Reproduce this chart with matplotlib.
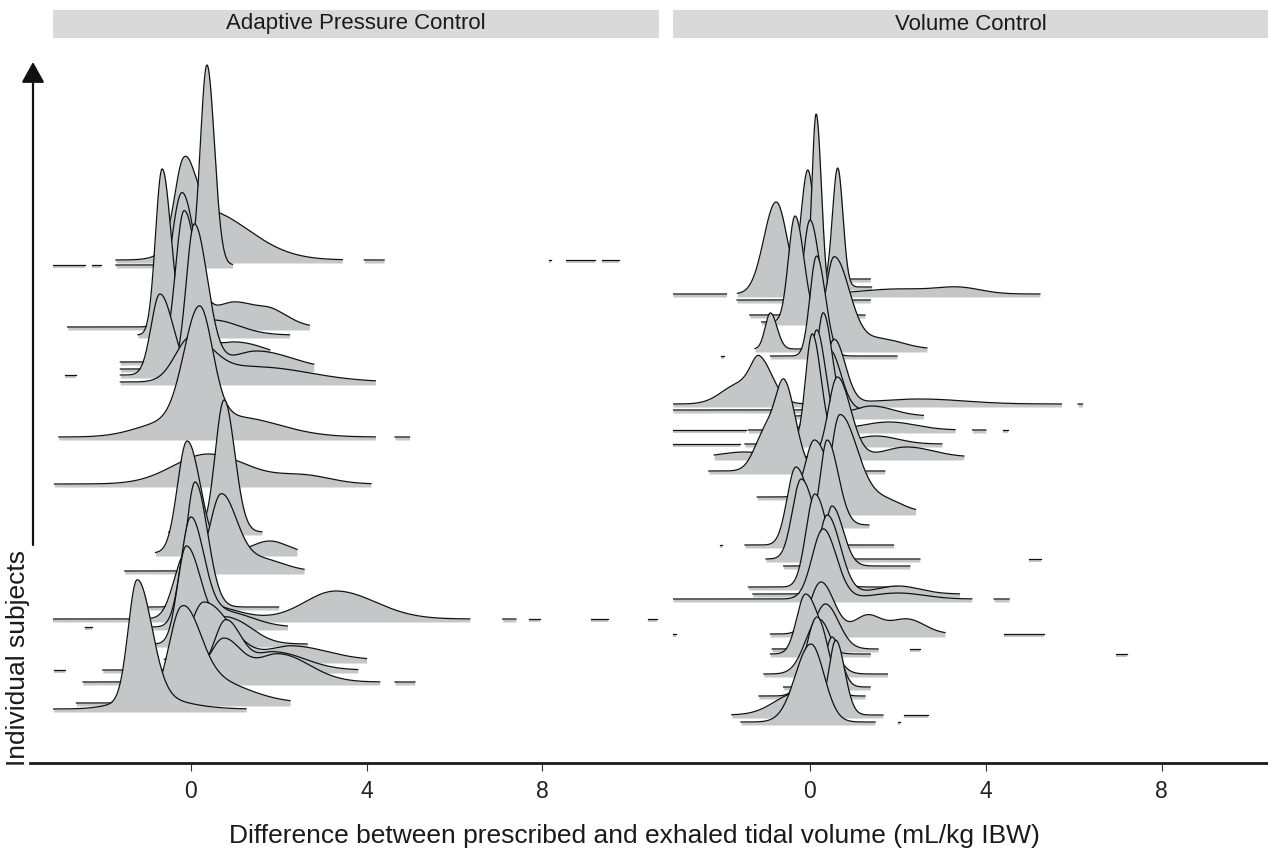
import numpy as np
import matplotlib.pyplot as plt
from matplotlib.lines import Line2D
from matplotlib.patches import Rectangle, FancyArrowPatch

plt.rcParams['font.family'] = ['Liberation Sans', 'DejaVu Sans']

W, H = 1268, 850
FILL = '#c5c6c8'
STRIP = '#d9d9d9'
FLOOR = 3

panels = ['Adaptive Pressure Control', 'Volume Control']
xticks = [0, 4, 8]

# one entry per subject: baseline, density bumps (mode, height, left sd, right sd),
# data range, and the small tail pieces that stay above the cut-off
apc_base = [51, 57, 78, 90, 100, 116, 133, 141, 153, 189, 207, 228, 276,
            323, 378, 385, 391, 398, 425, 433, 495, 500]
apc_comp = [
    [(-1.22, 118, 0.2, 0.33), (-1.0, 12, 0.6, 0.8)],
    [(-0.22, 82, 0.28, 0.4), (0.3, 25, 0.5, 0.9)],
    [(0.75, 42, 0.3, 0.4), (2.0, 28, 0.5, 0.7), (-0.2, 12, 0.4, 0.4)],
    [(0.8, 50, 0.25, 0.35), (1.9, 18, 0.4, 0.7)],
    [(0.3, 58, 0.3, 0.6), (2.3, 14, 0.5, 0.8)],
    [(-0.1, 98, 0.2, 0.35), (0.9, 25, 0.3, 0.5)],
    [(0.0, 108, 0.22, 0.3), (0.8, 15, 0.4, 0.6)],
    [(-0.13, 60, 0.25, 0.3), (0.5, 12, 0.5, 0.6), (3.3, 28, 0.7, 0.9)],
    [(0.1, 125, 0.2, 0.28)],
    [(0.69, 75, 0.25, 0.35), (1.6, 12, 0.5, 0.5)],
    [(-0.08, 112, 0.22, 0.3), (1.8, 12, 0.4, 0.4)],
    [(0.76, 132, 0.2, 0.24)],
    [(0.4, 30, 0.8, 0.9), (2.6, 8, 0.6, 0.6)],
    [(0.2, 120, 0.35, 0.3), (-0.5, 15, 0.7, 0.5), (1.0, 20, 0.5, 1.0)],
    [(0.0, 43, 0.35, 0.5), (1.5, 15, 0.8, 1.2)],
    [(-0.7, 81, 0.2, 0.3)],
    [(0.08, 144, 0.18, 0.3), (1.5, 18, 0.6, 0.8)],
    [(-0.15, 150, 0.2, 0.3), (1.0, 20, 0.5, 0.8)],
    [(-0.65, 165, 0.15, 0.2), (0.5, 15, 0.5, 0.6)],
    [(-0.2, 133, 0.25, 0.3), (1.0, 25, 0.5, 0.6), (1.9, 10, 0.3, 0.4)],
    [(0.37, 200, 0.15, 0.17)],
    [(-0.17, 70, 0.2, 0.25), (0.3, 50, 0.5, 1.0)],
]
apc_lo = [-3.12, -2.6, -2.45, -2.0, -0.6, -1.0, -1.2, -3.15, -1.0, -1.5, -0.8,
          -0.5, -3.1, -3.0, -1.6, -1.6, -1.6, -1.6, -1.2, -2.8, -1.7, -1.7]
apc_hi = [1.26, 2.26, 4.3, 3.8, 4.0, 2.65, 2.2, 6.35, 2.0, 2.58, 2.42,
          1.62, 4.1, 4.2, 4.2, 1.0, 2.8, 1.8, 2.25, 2.7, 0.95, 3.45]
apc_bits = [[], [], [(4.65, 5.1)], [(-3.12, -2.85)], [], [], [(-2.4, -2.25)],
            [(7.1, 7.4), (7.7, 7.95), (9.1, 9.5), (10.4, 10.6)],
            [], [], [], [], [], [(4.65, 4.98)], [], [(-2.85, -2.6)], [], [], [], [],
            [(-3.15, -2.4), (-2.25, -2.05)],
            [(3.95, 4.4), (8.15, 8.2), (8.55, 9.2), (9.35, 9.75)]]

vc_base = [38, 45, 64, 73, 86, 106, 111, 126, 161, 166, 173, 194, 201, 215,
           235, 248, 263, 289, 303, 316, 330, 344, 350, 356, 404, 411, 438,
           445, 460, 466, 473, 481]
vc_comp = [
    [(0.02, 78, 0.35, 0.3)],
    [(0.59, 73, 0.15, 0.2), (-0.3, 22, 0.5, 0.4)],
    [(0.16, 79, 0.25, 0.25)],
    [(0.5, 50, 0.15, 0.2)],
    [(0.2, 55, 0.3, 0.3)],
    [(-0.1, 60, 0.2, 0.3)],
    [(0.35, 45, 0.25, 0.3)],
    [(0.25, 52, 0.25, 0.3), (1.3, 18, 0.3, 0.3), (2.2, 15, 0.4, 0.4)],
    [(0.3, 70, 0.25, 0.3), (2.0, 6, 0.6, 0.6)],
    [(0.39, 79, 0.2, 0.3), (2.0, 8, 0.5, 0.5)],
    [(0.11, 93, 0.2, 0.3)],
    [(0.5, 60, 0.15, 0.25)],
    [(-0.2, 80, 0.2, 0.3)],
    [(-0.32, 78, 0.2, 0.3)],
    [(0.39, 85, 0.15, 0.25)],
    [(0.68, 97, 0.2, 0.4), (1.7, 12, 0.4, 0.4)],
    [(0.1, 57, 0.2, 0.3)],
    [(-0.57, 82, 0.2, 0.25), (-1.0, 40, 0.25, 0.25)],
    [(0.62, 80, 0.2, 0.3), (2.2, 10, 0.5, 0.6), (-1.5, 5, 0.5, 0.5)],
    [(0.05, 110, 0.15, 0.2), (1.5, 8, 0.5, 0.5)],
    [(0.15, 100, 0.15, 0.2), (1.8, 8, 0.6, 0.6)],
    [(0.3, 103, 0.15, 0.2), (1.4, 10, 0.4, 0.5)],
    [(0.45, 60, 0.2, 0.25)],
    [(0.55, 64, 0.2, 0.25), (-1.14, 42, 0.2, 0.3), (-1.6, 20, 0.4, 0.3), (2.5, 5, 1.0, 1.0)],
    [(0.15, 100, 0.15, 0.2)],
    [(0.55, 92, 0.2, 0.35), (-0.9, 36, 0.12, 0.15), (1.6, 10, 0.4, 0.5)],
    [(-0.34, 106, 0.15, 0.2)],
    [(0.0, 95, 0.15, 0.2)],
    [(0.14, 186, 0.1, 0.12)],
    [(-0.77, 92, 0.28, 0.25), (2.0, 5, 0.8, 0.8), (3.4, 6, 0.5, 0.5)],
    [(0.63, 119, 0.12, 0.12)],
    [(-0.05, 109, 0.15, 0.15)],
]
vc_lo = [-1.57, -1.78, -1.16, -0.6, -1.05, -0.9, -0.86, -0.9, -3.12, -1.3, -1.4,
         -0.6, -1.0, -1.48, -0.6, -0.5, -1.2, -2.3, -2.18, -1.48, -1.4, -0.8,
         -3.12, -3.12, -0.9, -1.25, -1.1, -1.37, -1.66, -1.65, -0.5, -0.8]
vc_hi = [1.48, 1.66, 1.25, 1.37, 1.76, 1.37, 1.55, 3.07, 3.68, 3.4, 2.0,
         2.27, 2.5, 1.9, 1.34, 2.4, 1.3, 1.7, 3.5, 3.0, 3.3, 2.58,
         1.8, 5.72, 1.98, 2.66, 1.0, 1.25, 1.37, 5.23, 1.4, 1.37]
vc_bits = [[(2.0, 2.05)], [(2.15, 2.68)], [], [], [], [(6.96, 7.21)], [(2.28, 2.5)],
           [(-3.12, -3.05), (4.41, 5.32)], [(4.19, 4.53)], [], [], [],
           [(4.98, 5.25)], [(-2.05, -2.0)], [], [], [], [], [],
           [(-3.12, -1.6)], [(-3.12, -1.45), (3.7, 4.0), (4.4, 4.5)], [], [],
           [(6.1, 6.2)], [(-2.02, -1.95)], [], [], [], [], [(-3.12, -1.9)], [], []]


def density(x, comps):
    y = np.zeros_like(x)
    for mu, h, sl, sr in comps:
        s = np.where(x < mu, sl, sr)
        y += h * np.exp(-0.5 * ((x - mu) / s) ** 2)
    return y + FLOOR


def draw_ridges(ax, base, comp, lo, hi, bits):
    order = np.argsort(base)[::-1]  # back rows first, front rows last
    for z, i in enumerate(order):
        x = np.linspace(lo[i], hi[i], 400)
        y = density(x, comp[i])
        ax.fill_between(x, base[i], base[i] + y, color=FILL, lw=0, zorder=2 + z)
        ax.plot(x, base[i] + y, color='#111111', lw=0.9, zorder=2.5 + z)
        for a, b in bits[i]:
            xs = np.linspace(a, b, 20)
            ys = density(xs, comp[i])
            ax.fill_between(xs, base[i], base[i] + ys, color=FILL, lw=0, zorder=2 + z)
            ax.plot(xs, base[i] + ys, color='#111111', lw=0.9, zorder=2.5 + z)


fig = plt.figure(figsize=(W / 100, H / 100), dpi=100)

# panel extents in pixels: left, right, and the pixel of x = 0
boxes = [(53, 659, 190.7), (673, 1268, 810.0)]
px_per_unit = 43.95
top, bottom = 38, 763

data = [(apc_base, apc_comp, apc_lo, apc_hi, apc_bits),
        (vc_base, vc_comp, vc_lo, vc_hi, vc_bits)]

for (l, r, x0), name, d in zip(boxes, panels, data):
    ax = fig.add_axes([l / W, 1 - bottom / H, (r - l) / W, (bottom - top) / H])
    ax.set_xlim((l - x0) / px_per_unit, (r - x0) / px_per_unit)
    ax.set_ylim(0, bottom - top)
    draw_ridges(ax, *d)
    ax.set_xticks(xticks)
    ax.set_xticklabels([str(t) for t in xticks])
    ax.set_yticks([])
    ax.tick_params(axis='x', length=5.5, width=0.8, color='#333333',
                   labelsize=16.5, pad=7, labelcolor='#222222')
    for s in ax.spines.values():
        s.set_visible(False)
    ax.patch.set_alpha(0)
    # facet strip
    fig.add_artist(Rectangle((l / W, 1 - top / H), (r - l) / W, 28 / H,
                             transform=fig.transFigure, color=STRIP, lw=0))
    fig.text((l + r) / 2 / W, 1 - 24 / H, name, ha='center', va='center',
             fontsize=16, color='#1a1a1a')

# shared x axis line
fig.add_artist(Line2D([30 / W, 1], [1 - bottom / H] * 2, color='#1a1a1a', lw=2,
                      transform=fig.transFigure))

# y axis arrow and label
fig.add_artist(FancyArrowPatch((33 / W, 1 - 545 / H), (33 / W, 1 - 62 / H),
                               transform=fig.transFigure,
                               arrowstyle='-|>,head_length=0.9,head_width=0.5',
                               mutation_scale=14, lw=1.6, color='#111111',
                               shrinkA=0, shrinkB=0))
fig.text(18 / W, 1 - 658 / H, 'Individual subjects', rotation=90,
         ha='center', va='center', fontsize=19, color='#1a1a1a')

fig.text(0.5, 1 - 836 / H,
         'Difference between prescribed and exhaled tidal volume (mL/kg IBW)',
         ha='center', va='center', fontsize=19, color='#1a1a1a')

fig.savefig('out.png', dpi=100)
